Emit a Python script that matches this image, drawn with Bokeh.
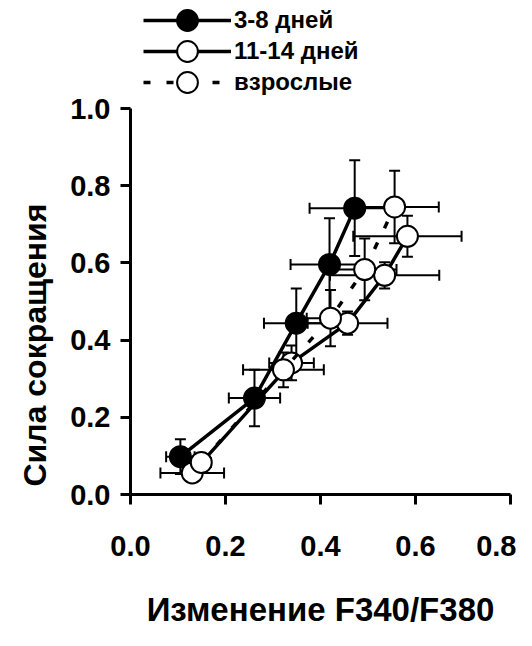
from bokeh.plotting import figure
from bokeh.models import (ColumnDataSource, Whisker, TeeHead, Legend, LegendItem,
                          FixedTicker, PrintfTickFormatter, Title)
from bokeh.embed import file_html
from bokeh.resources import INLINE

# ---- data ----
series_names = ["3-8 дней", "11-14 дней", "взрослые"]

x_38 = [0.105, 0.261, 0.349, 0.419, 0.472]
y_38 = [0.098, 0.250, 0.444, 0.596, 0.742]
xe_38 = [0.030, 0.054, 0.068, 0.082, 0.095]
ye_38 = [0.045, 0.073, 0.090, 0.120, 0.124]

x_1114 = [0.130, 0.339, 0.457, 0.535, 0.583]
y_1114 = [0.056, 0.341, 0.444, 0.568, 0.669]
xe_1114 = [0.067, 0.047, 0.084, 0.115, 0.114]
ye_1114 = [0.020, 0.045, 0.030, 0.034, 0.053]

x_ad = [0.149, 0.322, 0.421, 0.493, 0.556]
y_ad = [0.083, 0.323, 0.457, 0.583, 0.745]
xe_ad = [0.020, 0.085, 0.050, 0.067, 0.093]
ye_ad = [0.020, 0.045, 0.073, 0.080, 0.094]

x_ticks = [0.0, 0.2, 0.4, 0.6, 0.8]
y_ticks = [0.0, 0.2, 0.4, 0.6, 0.8, 1.0]
x_title = "Изменение F340/F380"
y_title = "Сила сокращения"

FONT = "Liberation Sans"

# frame extends above y=1.0 to host the legend; axes are bounded to the data scale
p = figure(width=516, height=630, output_backend="svg", toolbar_location=None,
           x_range=(0.0, 0.8), y_range=(0.0, 1.28),
           min_border_left=129, min_border_right=6, min_border_top=0,
           min_border_bottom=123)
p.outline_line_color = None
p.grid.visible = False
p.background_fill_color = "white"
p.border_fill_color = "white"

for ax in (p.xaxis[0], p.yaxis[0]):
    ax.axis_line_width = 3
    ax.axis_line_color = "black"
    ax.major_tick_line_width = 3
    ax.major_tick_line_color = "black"
    ax.major_tick_out = 10
    ax.major_tick_in = 0
    ax.minor_tick_line_color = None
    ax.major_label_text_font = FONT
    ax.major_label_text_font_style = "bold"
    ax.major_label_text_font_size = "29px"
    ax.major_label_text_color = "black"
    ax.axis_label_text_font = FONT
    ax.axis_label_text_font_style = "bold"
    ax.axis_label_text_font_size = "33px"
    ax.axis_label_text_color = "black"
    ax.formatter = PrintfTickFormatter(format="%.1f")

p.xaxis[0].ticker = FixedTicker(ticks=x_ticks)
p.yaxis[0].ticker = FixedTicker(ticks=y_ticks)
p.xaxis[0].bounds = (x_ticks[0], x_ticks[-1])
p.yaxis[0].bounds = (y_ticks[0], y_ticks[-1])
p.xaxis[0].axis_label = x_title
p.xaxis[0].major_label_standoff = 31
p.xaxis[0].axis_label_standoff = 32
p.yaxis[0].major_label_standoff = 10

ytitle = Title(text=y_title, align="left", offset=8, standoff=29,
               text_font=FONT, text_font_style="bold", text_font_size="32px",
               text_color="black")
p.add_layout(ytitle, "left")

def add_series(xs, ys, xe, ye, fill, dash):
    src = ColumnDataSource(dict(
        x=xs, y=ys,
        xl=[a - e for a, e in zip(xs, xe)], xu=[a + e for a, e in zip(xs, xe)],
        yl=[a - e for a, e in zip(ys, ye)], yu=[a + e for a, e in zip(ys, ye)]))
    for base, lo, up, dim in (("y", "xl", "xu", "width"), ("x", "yl", "yu", "height")):
        w = Whisker(source=src, base=base, lower=lo, upper=up, dimension=dim,
                    line_width=2, line_color="black", level="underlay",
                    lower_head=TeeHead(size=11, line_width=2, line_color="black"),
                    upper_head=TeeHead(size=11, line_width=2, line_color="black"))
        p.add_layout(w)
    ln = p.line("x", "y", source=src, line_width=3.5, line_color="black", line_dash=dash)
    sc = p.scatter("x", "y", source=src, size=21, marker="circle",
                   fill_color=fill, line_color="black", line_width=2)
    return ln, sc

r1 = add_series(x_38, y_38, xe_38, ye_38, "black", "solid")
r2 = add_series(x_1114, y_1114, xe_1114, ye_1114, "white", "solid")
r3 = add_series(x_ad, y_ad, xe_ad, ye_ad, "white", "7 16")

# one legend per row so that the row pitch can be tighter than the glyph box
for name, rends, off in zip(series_names, (r1, r2, r3), (448, 417, 386)):
    lg = Legend(items=[LegendItem(label=name, renderers=list(rends))],
                location=(13, off), orientation="vertical",
                glyph_width=88, glyph_height=52, label_height=52,
                label_standoff=3, spacing=0, padding=0, margin=0,
                border_line_color=None, background_fill_alpha=0,
                label_text_font=FONT, label_text_font_style="bold",
                label_text_font_size="24px", label_text_color="black")
    p.add_layout(lg, "center")

open("out.html", "w").write(file_html(p, INLINE))
